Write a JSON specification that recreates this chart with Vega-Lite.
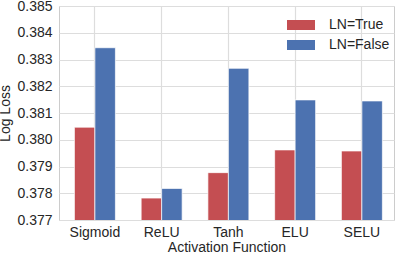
{
  "$schema": "https://vega.github.io/schema/vega-lite/v6.json",
  "width": 335,
  "height": 214,
  "autosize": {"type": "none"},
  "padding": {"left": 59, "top": 6, "right": 5, "bottom": 34},
  "background": "white",
  "config": {
    "font": "Liberation Sans",
    "view": {"stroke": "#cccccc", "strokeWidth": 1},
    "axis": {
      "labelFont": "Liberation Sans",
      "titleFont": "Liberation Sans",
      "labelFontSize": 14,
      "titleFontSize": 14,
      "labelColor": "#262626",
      "titleColor": "#262626",
      "titleFontWeight": "normal",
      "domain": false,
      "ticks": false,
      "gridColor": "#dddddd",
      "gridWidth": 1.2
    },
    "legend": {
      "labelFont": "Liberation Sans",
      "labelFontSize": 14,
      "labelColor": "#262626"
    }
  },
  "data": {
    "values": [
      {"act": "Sigmoid", "ln": "LN=True", "loss": 0.38047},
      {"act": "Sigmoid", "ln": "LN=False", "loss": 0.38344},
      {"act": "ReLU", "ln": "LN=True", "loss": 0.37782},
      {"act": "ReLU", "ln": "LN=False", "loss": 0.37818},
      {"act": "Tanh", "ln": "LN=True", "loss": 0.37877},
      {"act": "Tanh", "ln": "LN=False", "loss": 0.38267},
      {"act": "ELU", "ln": "LN=True", "loss": 0.37962},
      {"act": "ELU", "ln": "LN=False", "loss": 0.38149},
      {"act": "SELU", "ln": "LN=True", "loss": 0.37958},
      {"act": "SELU", "ln": "LN=False", "loss": 0.38145}
    ]
  },
  "mark": {"type": "bar", "clip": true, "stroke": "#ffffff", "strokeWidth": 0.7},
  "encoding": {
    "x": {
      "field": "act",
      "type": "nominal",
      "sort": ["Sigmoid", "ReLU", "Tanh", "ELU", "SELU"],
      "scale": {"paddingInner": 0.386, "paddingOuter": 0.2025, "align": 0.57},
      "axis": {"title": "Activation Function", "labelAngle": 0, "labelPadding": 5, "titlePadding": 1, "grid": true}
    },
    "xOffset": {"field": "ln", "type": "nominal", "sort": ["LN=True", "LN=False"]},
    "y": {
      "field": "loss",
      "type": "quantitative",
      "scale": {"domain": [0.377, 0.385], "zero": false, "nice": false},
      "axis": {"title": "Log Loss", "format": ".3f", "values": [0.377, 0.378, 0.379, 0.38, 0.381, 0.382, 0.383, 0.384, 0.385], "labelPadding": 7, "titlePadding": 4}
    },
    "color": {
      "field": "ln",
      "type": "nominal",
      "sort": ["LN=True", "LN=False"],
      "scale": {"domain": ["LN=True", "LN=False"], "range": ["#c44e52", "#4c72b0"]},
      "legend": {
        "title": null,
        "orient": "none",
        "legendX": 235,
        "legendY": 12,
        "symbolType": "M-2.8,-1H2.8V1H-2.8Z",
        "symbolSize": 100,
        "symbolStrokeWidth": 0,
        "symbolOpacity": 1,
        "labelOffset": 21,
        "rowPadding": 6,
        "padding": 0
      }
    }
  }
}
